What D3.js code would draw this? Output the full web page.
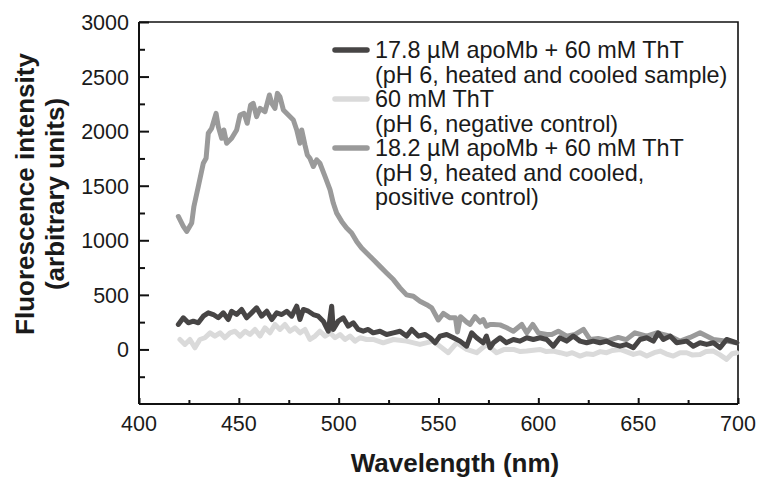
<!DOCTYPE html>
<html>
<head>
<meta charset="utf-8">
<script src="https://cdn.jsdelivr.net/npm/d3@7"></script>
<style>
  body { margin: 0; background: #fff; }
  svg text { font-family: "Liberation Sans", Arial, Helvetica, sans-serif; fill: #1a1a1a; }
</style>
</head>
<body>
<div id="chart"></div>
<script>
// tick values
const xMajor = [400, 450, 500, 550, 600, 650, 700];
const xMinor = [425, 475, 525, 575, 625, 675];
const yMajor = [0, 500, 1000, 1500, 2000, 2500, 3000];
const yMinor = [-250, 250, 750, 1250, 1750, 2250, 2750];

// legend entries
const legendNames = [
    ["17.8 \u00b5M apoMb + 60 mM ThT", "(pH 6, heated and cooled sample)"],
    ["60 mM ThT", "(pH 6, negative control)"],
    ["18.2 \u00b5M apoMb + 60 mM ThT", "(pH 9, heated and cooled,", "positive control)"]
];
const seriesColors = ["#474545", "#dadada", "#9a9a9a"];

// [wavelength nm, intensity]
const sampleData = [
    [419.7,229],[422.2,290],[424.7,244],[427.2,259],[429.7,244],[432.2,305],[434.7,335],[437.2,320],
    [439.7,290],[442.2,335],[444.7,274],[446.4,350],[448.9,320],[451.4,366],[453.9,290],[456.4,335],
    [458.9,381],[461.4,305],[464,350],[466.5,274],[469,335],[471.5,320],[474,350],[476.5,305],
    [479,396],[480.6,274],[482.3,366],[484.8,350],[487.3,320],[489.8,305],[492.3,259],[494.8,167],
    [496.5,396],[497.3,183],[499.8,259],[502.3,290],[504.8,213],[507.3,244],[509.8,183],[512.3,167],
    [514.8,183],[517.3,152],[520.7,167],[524,137],[527.4,152],[530.7,167],[534,122],[536.6,183],
    [539.9,122],[543.2,137],[545.8,107],[548.3,61],[550.8,122],[554.1,137],[557.5,107],[560.8,76],
    [564.1,30],[566.6,152],[569.1,107],[572.4,61],[574,122],[575.8,15],[577.5,61],[580.8,107],
    [584,61],[587.5,91],[590.8,76],[594.2,107],[597.5,91],[600.8,107],[604.2,91],[607.5,30],
    [610.8,107],[614.2,76],[617.5,122],[620.9,76],[624.2,61],[627.5,76],[630.9,61],[634.2,76],
    [637.6,46],[640.9,30],[644.2,46],[647.6,15],[650.9,91],[654.3,107],[657.6,76],[660.1,152],
    [662.6,91],[666,122],[669.3,61],[674.3,76],[677.6,30],[681,61],[684.3,46],[687.7,61],
    [691,15],[694.3,91],[699.4,61]
];

const negativeData = [
    [420.5,91],[423,46],[425.5,91],[428,15],[430.5,91],[433,107],[435.6,152],[438,122],
    [440.6,152],[443,107],[445.6,152],[448.1,167],[450.6,122],[453.1,167],[455.6,137],[458.1,183],
    [460.6,122],[463.1,198],[465.6,152],[468.1,229],[470.6,183],[473.1,229],[475.6,167],[478.1,198],
    [480.6,152],[483.1,183],[485.6,91],[488.2,122],[490.6,167],[493.2,122],[495.7,152],[498.2,107],
    [500.7,137],[503.2,91],[505.7,122],[508.2,76],[510.7,107],[514,91],[517.3,91],[522.3,61],
    [527.4,91],[534,76],[540.7,46],[547.4,76],[554.9,-30],[559.1,61],[564.1,0],[569.1,-30],
    [574.1,46],[579.1,-30],[583,0],[587.5,0],[591,-20],[594.2,-15],[600.8,0],[604,-20],
    [607.5,-15],[611,-30],[614.2,-46],[617,-30],[620.9,-61],[624,-40],[627.5,-46],[631,-20],
    [634.2,-30],[637,-10],[640.9,0],[644,-20],[647.6,-46],[651,-30],[654.3,-61],[658,-30],
    [661,-15],[664,-40],[667.6,-61],[671,-30],[674.3,-30],[677,-50],[681,-46],[684,-20],
    [687.7,-15],[691,-50],[694.3,-91],[697,-40],[699.4,-30]
];

const positiveData = [
    [419.7,1218],[422.2,1127],[423.9,1081],[426.4,1158],[427.5,1310],[429.7,1493],[432.2,1706],[433.6,1752],
    [434.7,1981],[436.4,2026],[438.6,2163],[439.7,2041],[441.4,1935],[442.5,2011],[443.9,1889],[446.4,1935],
    [448.9,2011],[450.6,2148],[452.6,2163],[454.2,2072],[455.9,2239],[457.2,2255],[458.9,2133],[460.6,2209],
    [463.1,2178],[465.3,2331],[466.5,2255],[468.1,2209],[469.3,2346],[470.6,2315],[472.3,2194],[474.8,2148],
    [477.3,2102],[479,2011],[480.6,1889],[481.5,2011],[483.1,1874],[484.3,1782],[485.6,1752],[487.3,1676],
    [489,1737],[490.6,1706],[493.2,1584],[495.7,1462],[497.3,1341],[499,1249],[501.5,1173],[504,1112],
    [506.5,1066],[509,990],[511.5,929],[514,884],[517.3,823],[520.7,761],[524,701],[527.4,640],
    [530.7,564],[534,500],[537.4,487],[540.7,442],[544.1,410],[546.6,381],[549.9,270],[552.4,330],
    [555.8,290],[558.5,290],[559.5,160],[561,300],[564.1,250],[565.8,229],[568.3,300],[570.8,250],
    [572.4,274],[574,213],[575.8,229],[577.5,229],[580.8,225],[584.2,198],[587.5,167],[591.7,229],
    [594.2,152],[597.2,229],[600,152],[604.2,137],[606.7,137],[610,167],[614.2,122],[618.4,137],
    [622.6,183],[625.9,91],[630,100],[635,80],[640,110],[644,90],[648.4,152],[654.3,122],
    [659.3,152],[666,122],[671,76],[676,110],[681,152],[687.7,91],[694.3,76],[699.4,61]
];

const width = 757, height = 478;
const margin = {top: 22, right: 19, bottom: 74, left: 139};

const svg = d3.select("#chart").append("svg")
    .attr("width", width)
    .attr("height", height);

const x = d3.scaleLinear()
    .domain([400, 700])
    .range([margin.left, width - margin.right]);

const y = d3.scaleLinear()
    .domain([-500, 3000])
    .range([height - margin.bottom, margin.top]);

// frame (top and right)
svg.append("path")
    .attr("d", `M${x(400)},${y(3000)}H${x(700)}V${y(-500)}`)
    .attr("fill", "none")
    .attr("stroke", "#111")
    .attr("stroke-width", 1.6);

// x axis, ticks pointing inward
const xAxis = svg.append("g")
    .attr("transform", `translate(0,${y(-500)})`)
    .call(d3.axisTop(x).tickValues(xMajor).tickSize(6).tickFormat(""));
svg.append("g")
    .attr("transform", `translate(0,${y(-500)})`)
    .call(d3.axisTop(x).tickValues(xMinor).tickSize(4).tickFormat(""))
    .select(".domain").remove();

// y axis, ticks pointing inward
const yAxis = svg.append("g")
    .attr("transform", `translate(${x(400)},0)`)
    .call(d3.axisRight(y).tickValues(yMajor).tickSize(10).tickFormat(""));
svg.append("g")
    .attr("transform", `translate(${x(400)},0)`)
    .call(d3.axisRight(y).tickValues(yMinor).tickSize(6).tickFormat(""))
    .select(".domain").remove();

svg.selectAll(".domain, .tick line")
    .attr("stroke", "#111")
    .attr("stroke-width", 2);
// plain axis lines, no end caps
xAxis.select(".domain").attr("d", `M${x(400)},0H${x(700)}`);
yAxis.select(".domain").attr("d", `M0,${y(-500)}V${y(3000)}`);

// tick labels
svg.selectAll(".xlabel")
    .data(xMajor)
    .enter().append("text")
    .attr("class", "xlabel")
    .attr("x", d => x(d))
    .attr("y", y(-500) + 27)
    .attr("text-anchor", "middle")
    .attr("font-size", "21.5px")
    .text(d => d);

svg.selectAll(".ylabel")
    .data(yMajor)
    .enter().append("text")
    .attr("class", "ylabel")
    .attr("x", x(400) - 10)
    .attr("y", d => y(d) + 8)
    .attr("text-anchor", "end")
    .attr("font-size", "21.5px")
    .text(d => d);

// axis titles
svg.append("text")
    .attr("x", 455)
    .attr("y", 472)
    .attr("text-anchor", "middle")
    .attr("font-size", "26px")
    .attr("font-weight", "bold")
    .text("Wavelength (nm)");

const yTitle = svg.append("text")
    .attr("transform", "translate(34,194) rotate(-90)")
    .attr("text-anchor", "middle")
    .attr("font-size", "26px")
    .attr("font-weight", "bold");
yTitle.append("tspan").attr("x", 0).attr("y", 0).text("Fluorescence intensity");
yTitle.append("tspan").attr("x", 0).attr("y", 30).text("(arbitrary units)");

// curves
const line = d3.line()
    .x(d => x(d[0]))
    .y(d => y(d[1]));

const drawOrder = [
    {data: negativeData, color: seriesColors[1]},
    {data: positiveData, color: seriesColors[2]},
    {data: sampleData, color: seriesColors[0]}
];

svg.selectAll(".curve")
    .data(drawOrder)
    .enter().append("path")
    .attr("class", "curve")
    .attr("d", d => line(d.data))
    .attr("fill", "none")
    .attr("stroke", d => d.color)
    .attr("stroke-width", 5)
    .attr("stroke-linejoin", "round")
    .attr("stroke-linecap", "round");

// legend
const legend = svg.append("g").attr("class", "legend");
const rowH = 24.5;
let row = 0;
legendNames.forEach((names, i) => {
    const cy = 50 + row * rowH;
    legend.append("line")
        .attr("x1", 335).attr("x2", 367)
        .attr("y1", cy).attr("y2", cy)
        .attr("stroke", seriesColors[i])
        .attr("stroke-width", 5.5)
        .attr("stroke-linecap", "round");
    names.forEach((t, j) => {
        legend.append("text")
            .attr("x", 375)
            .attr("y", 50 + (row + j) * rowH + 8)
            .attr("font-size", "23.4px")
            .text(t);
    });
    row += names.length;
});
</script>
</body>
</html>
